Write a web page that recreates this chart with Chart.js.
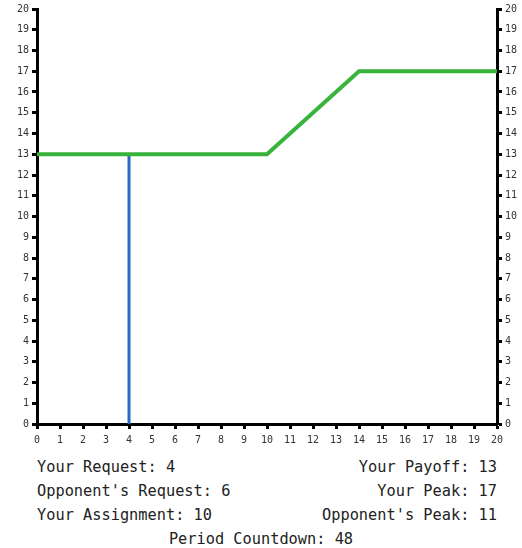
<!DOCTYPE html>
<html>
<head>
<meta charset="utf-8">
<script src="https://cdn.jsdelivr.net/npm/chart.js@4/dist/chart.umd.min.js"></script>
<style>
  body { margin: 0; background: #fff; }
  #wrap { position: relative; width: 522px; height: 455px; }
  .info { font-family: "DejaVu Sans Mono", "Liberation Mono", monospace; font-size: 15.3px; color: #222; }
  .row { position: absolute; left: 37px; width: 460px; display: flex; justify-content: space-between; }
  .center { position: absolute; left: 0; width: 522px; text-align: center; }
</style>
</head>
<body>
<div id="wrap"><canvas id="chart" width="522" height="455"></canvas></div>
<div class="info">
  <div class="row" style="top:458px"><span id="req"></span><span id="pay"></span></div>
  <div class="row" style="top:482px"><span id="oreq"></span><span id="peak"></span></div>
  <div class="row" style="top:506px"><span id="asg"></span><span id="opeak"></span></div>
  <div class="center" style="top:530px" id="cd"></div>
</div>
<script>
// Datos de la gráfica
const payoffX = [0, 10, 14, 20];
const payoffY = [13, 13, 17, 17];
const requestX = [4, 4];
const requestY = [0, 13];
const axisMin = 0;
const axisMax = 20;

const yourRequest = 4;
const opponentRequest = 6;
const yourAssignment = 10;
const yourPayoff = 13;
const yourPeak = 17;
const opponentPeak = 11;
const periodCountdown = 48;

document.getElementById('req').textContent = 'Your Request: ' + yourRequest;
document.getElementById('oreq').textContent = "Opponent's Request: " + opponentRequest;
document.getElementById('asg').textContent = 'Your Assignment: ' + yourAssignment;
document.getElementById('pay').textContent = 'Your Payoff: ' + yourPayoff;
document.getElementById('peak').textContent = 'Your Peak: ' + yourPeak;
document.getElementById('opeak').textContent = "Opponent's Peak: " + opponentPeak;
document.getElementById('cd').textContent = 'Period Countdown: ' + periodCountdown;

const tickFont = { family: 'DejaVu Sans Mono', size: 10 };

const axisCommon = {
    type: 'linear',
    min: axisMin,
    max: axisMax,
    grid: {
        drawOnChartArea: false,
        drawTicks: true,
        tickLength: 5,
        tickWidth: 3,
        tickColor: '#000'
    },
    border: { display: true, color: '#000', width: 3 },
    ticks: { stepSize: 1, color: '#333', font: tickFont, padding: 3, autoSkip: false }
};

new Chart(document.getElementById('chart').getContext('2d'), {
    type: 'line',
    data: {
        datasets: [
            {
                data: payoffX.map((x, i) => ({ x, y: payoffY[i] })),
                borderColor: 'rgb(56, 180, 60)',
                borderWidth: 4,
                pointRadius: 0,
                tension: 0,
                yAxisID: 'y'
            },
            {
                data: requestX.map((x, i) => ({ x, y: requestY[i] })),
                borderColor: 'rgb(40, 104, 200)',
                borderWidth: 3,
                pointRadius: 0,
                tension: 0,
                yAxisID: 'y'
            }
        ]
    },
    options: {
        responsive: false,
        animation: false,
        layout: { padding: { top: 9 } },
        plugins: { legend: { display: false }, tooltip: { enabled: false } },
        scales: {
            x: {
                ...axisCommon,
                position: 'bottom',
                ticks: { ...axisCommon.ticks, padding: 5 },
                afterFit: s => { s.height = 31; }
            },
            y: {
                ...axisCommon,
                position: 'left',
                afterFit: s => { s.width = 37; }
            },
            y2: {
                ...axisCommon,
                position: 'right',
                afterFit: s => { s.width = 25; }
            }
        }
    }
});
</script>
</body>
</html>
